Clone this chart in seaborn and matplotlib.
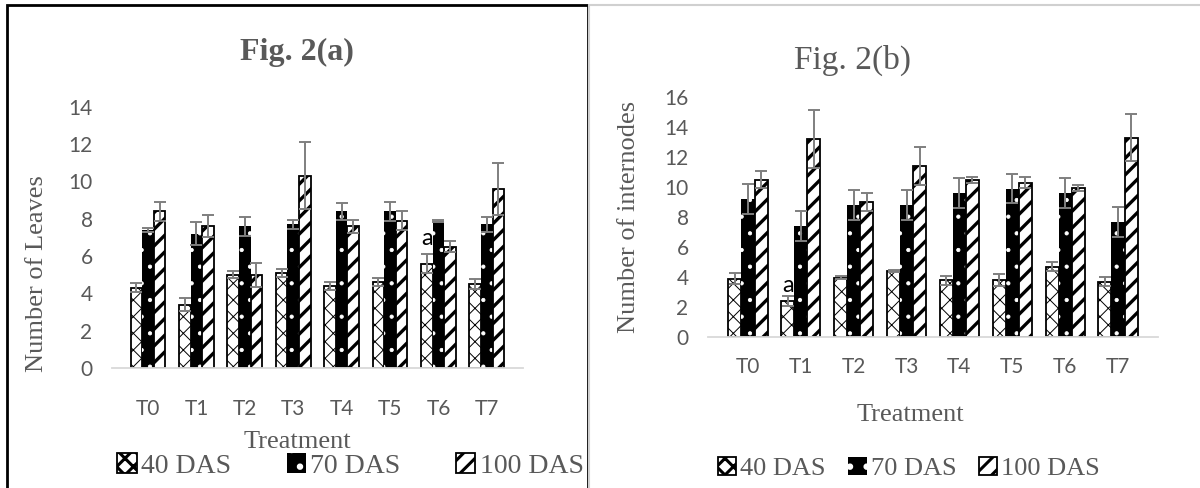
import matplotlib
matplotlib.use('Agg')
import matplotlib.pyplot as plt
import pandas as pd
import seaborn as sns
from matplotlib.patches import Patch, Rectangle
from matplotlib.lines import Line2D

sns.set_style('white')
plt.rcParams['hatch.linewidth'] = 2.2

treatments = ['T0', 'T1', 'T2', 'T3', 'T4', 'T5', 'T6', 'T7']
stages = ['40 DAS', '70 DAS', '100 DAS']

# Fig. 2(a) - number of leaves
leaves_40 = [4.3, 3.4, 5.0, 5.1, 4.4, 4.6, 5.6, 4.5]
leaves_70 = [7.4, 7.2, 7.6, 7.7, 8.4, 8.4, 7.9, 7.7]
leaves_100 = [8.4, 7.6, 5.0, 10.3, 7.6, 7.9, 6.5, 9.6]
leaves_40_err = [0.25, 0.35, 0.2, 0.2, 0.2, 0.2, 0.5, 0.25]
leaves_70_err = [0.1, 0.6, 0.5, 0.25, 0.45, 0.5, 0.05, 0.4]
leaves_100_err = [0.5, 0.6, 0.65, 1.8, 0.35, 0.5, 0.3, 1.4]

# Fig. 2(b) - number of internodes
intern_40 = [3.9, 2.4, 3.95, 4.4, 3.8, 3.8, 4.7, 3.7]
intern_70 = [9.2, 7.4, 8.8, 8.8, 9.6, 9.9, 9.6, 7.7]
intern_100 = [10.5, 13.2, 9.0, 11.4, 10.5, 10.3, 9.95, 13.3]
intern_40_err = [0.35, 0.35, 0.1, 0.05, 0.3, 0.4, 0.3, 0.3]
intern_70_err = [1.0, 1.0, 1.0, 1.0, 1.0, 0.95, 1.0, 1.0]
intern_100_err = [0.55, 1.95, 0.6, 1.25, 0.2, 0.35, 0.2, 1.55]

grey = '#595959'
serif = 'Liberation Serif'
sans = 'Lato'

# (face, edge, hatch, linewidth, hatch linewidth) per stage
styles = [('white', 'black', 'xx', 1.3, 0.7),
          ('black', 'white', '.', 0.0, 0.6),
          ('white', 'black', '//', 1.3, 2.4)]


def long_df(a, b, c):
    return pd.DataFrame({
        'treatment': treatments * 3,
        'stage': [s for s in stages for _ in treatments],
        'value': a + b + c,
    })


def style_patch(p, fc, ec, hatch, lw, hlw):
    p.set_facecolor(fc)
    p.set_edgecolor(ec)
    p.set_hatch(hatch)
    p.set_linewidth(lw)
    if hasattr(p, 'set_hatch_linewidth'):
        p.set_hatch_linewidth(hlw)


def draw(ax, a, b, c, errs, ymax, ylabel, width):
    df = long_df(a, b, c)
    sns.barplot(data=df, x='treatment', y='value', hue='stage', order=treatments,
                hue_order=stages, palette=['white', 'black', 'white'],
                errorbar=None, width=width, legend=False, ax=ax)
    for cont, st, err in zip(ax.containers, styles, errs):
        xs, ys = [], []
        for bar in cont:
            style_patch(bar, *st)
            xs.append(bar.get_x() + bar.get_width() / 2)
            ys.append(bar.get_height())
        ax.errorbar(xs, ys, yerr=err, fmt='none', ecolor='#7f7f7f',
                    elinewidth=1.4, capsize=4.5, capthick=1.4, zorder=5)
    ax.set_ylim(0, ymax)
    ax.set_yticks(range(0, ymax + 1, 2))
    ax.set_xlabel('Treatment', fontsize=19, family=serif, color=grey)
    ax.set_ylabel(ylabel, fontsize=19, family=serif, color=grey)
    ax.tick_params(length=0, labelsize=15, labelcolor=grey)
    ax.tick_params(axis='y', pad=14)
    for lab in ax.get_xticklabels() + ax.get_yticklabels():
        lab.set_family(sans)
    for s in ['top', 'right', 'left']:
        ax.spines[s].set_visible(False)
    ax.spines['bottom'].set_color('#d9d9d9')
    ax.spines['bottom'].set_linewidth(1.3)


fig = plt.figure(figsize=(12, 4.88), dpi=100)
ax1 = fig.add_axes([0.0933, 0.246, 0.3425, 0.535])
ax2 = fig.add_axes([0.590, 0.309, 0.375, 0.492])

draw(ax1, leaves_40, leaves_70, leaves_100,
     [leaves_40_err, leaves_70_err, leaves_100_err], 14, 'Number of Leaves', 0.72)
draw(ax2, intern_40, intern_70, intern_100,
     [intern_40_err, intern_70_err, intern_100_err], 16, 'Number of internodes', 0.74)

ax1.tick_params(axis='x', pad=22)
ax2.tick_params(axis='x', pad=14)
ax1.yaxis.set_label_coords(-0.155, 0.36)
ax2.yaxis.set_label_coords(-0.152, 0.5)
ax1.xaxis.set_label_coords(0.45, -0.24)
ax2.xaxis.set_label_coords(0.45, -0.28)

# significance letters
ax1.text(5.76, 6.4, 'a', fontsize=17, family=sans, color='black', ha='center', va='bottom')
ax2.text(0.76, 2.75, 'a', fontsize=17, family=sans, color='black', ha='center', va='bottom')

fig.text(297 / 1200, 1 - 52 / 488, 'Fig. 2(a)', fontsize=23, family=serif,
         weight='bold', color=grey, ha='center', va='center')
fig.text(853 / 1200, 1 - 60 / 488, 'Fig. 2(b)', fontsize=24, family=serif,
         color=grey, ha='center', va='center')

handles = []
for st in styles:
    h = Patch()
    style_patch(h, *st)
    handles.append(h)
for x, y, size, gap in [(0.292, 0.045, 20, 2.0), (0.7575, 0.040, 19, 0.85)]:
    fig.legend(handles, stages, loc='center', bbox_to_anchor=(x, y), ncol=3,
               frameon=False, prop={'family': serif, 'size': size}, labelcolor=grey,
               handlelength=0.7, handleheight=0.7, handletextpad=0.15, columnspacing=gap)

# panel frames
fig.add_artist(Rectangle((7 / 1200, -0.02), 581 / 1200, 1.02 - 5 / 488,
                         transform=fig.transFigure, fill=False, edgecolor='black', linewidth=2))
fig.add_artist(Line2D([589 / 1200, 1], [1 - 5 / 488] * 2, transform=fig.transFigure,
                      color='#d0d0d0', linewidth=1.5))
fig.add_artist(Line2D([589 / 1200] * 2, [0, 1 - 5 / 488], transform=fig.transFigure,
                      color='#d0d0d0', linewidth=1.5))

fig.savefig('out.png', dpi=100)
